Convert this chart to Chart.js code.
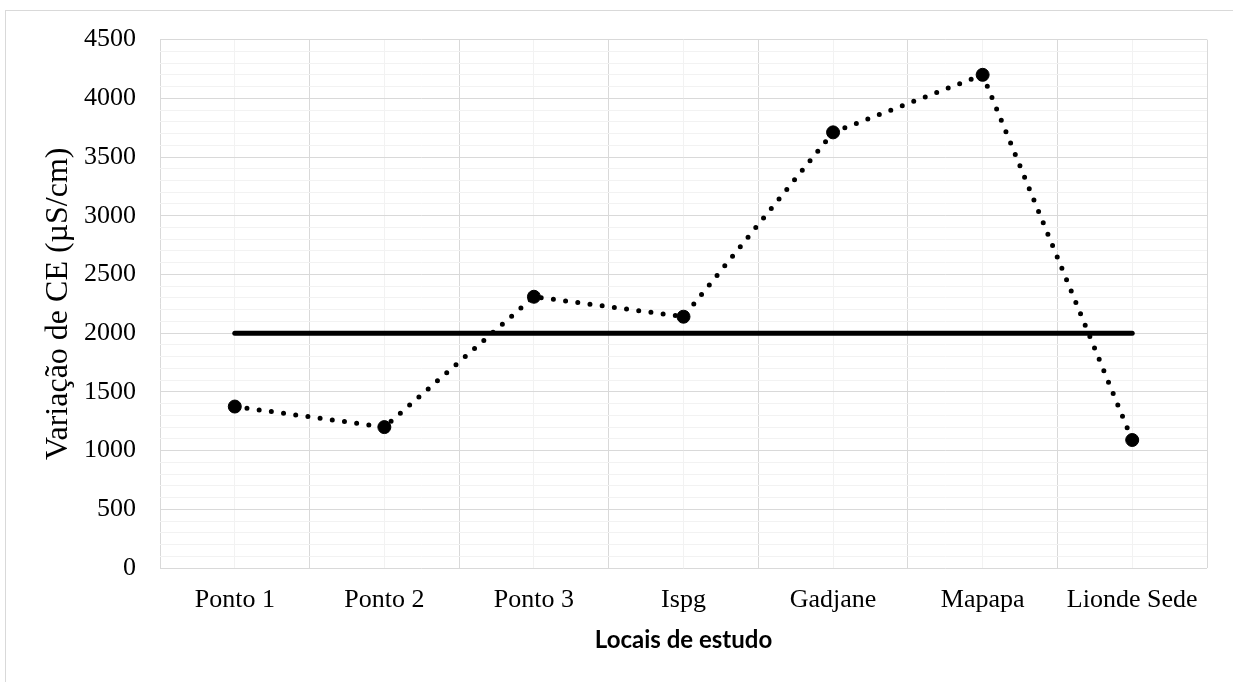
<!DOCTYPE html>
<html>
<head>
<meta charset="utf-8">
<script src="https://cdn.jsdelivr.net/npm/chart.js@4.4.1/dist/chart.umd.min.js"></script>
<style>
  html, body { margin: 0; padding: 0; background: #fff; }
  #wrap { position: relative; width: 1233px; height: 682px; overflow: hidden; }
  #frame { position: absolute; left: 5px; top: 10px; width: 1260px; height: 700px; border: 1px solid #d9d9d9; box-sizing: border-box; }
  #chart { position: absolute; left: 0; top: 0; }
</style>
</head>
<body>
<div id="wrap">
  <div id="frame"></div>
  <canvas id="chart" width="1233" height="682"></canvas>
</div>
<script>
// data
var locais = ['Ponto 1', 'Ponto 2', 'Ponto 3', 'Ispg', 'Gadjane', 'Mapapa', 'Lionde Sede'];
var ceValores = [1375, 1200, 2310, 2140, 3710, 4200, 1090];
var limiteCE = [2000, 2000, 2000, 2000, 2000, 2000, 2000];
var yMin = 0, yMax = 4500, yMajor = 500, yMinor = 100;

var serif = '"Liberation Serif", "Times New Roman", serif';

new Chart(document.getElementById('chart'), {
    type: 'line',
    data: {
        labels: locais,
        datasets: [
            { label: 'CE', data: ceValores, borderColor: '#000', backgroundColor: '#000', borderWidth: 5,
              borderDash: [0, 12.3], borderCapStyle: 'round', tension: 0,
              pointStyle: 'circle', pointRadius: 6.5, pointBorderWidth: 1, pointBackgroundColor: '#000', pointBorderColor: '#000' },
            { label: 'Limite', data: limiteCE, borderColor: '#000', borderWidth: 5, borderCapStyle: 'round',
              pointRadius: 0, tension: 0 }
        ]
    },
    options: {
        responsive: false, animation: false,
        layout: { padding: { left: 0, top: 39, right: 26, bottom: 0 } },
        plugins: { legend: { display: false }, tooltip: { enabled: false } },
        scales: {
            x: {
                type: 'category', offset: true,
                grid: { offset: true, color: '#d9d9d9', lineWidth: 1, drawTicks: false },
                border: { display: false },
                ticks: { color: '#000', font: { family: serif, size: 26 }, padding: 17, maxRotation: 0, autoSkip: false },
                title: { display: true, text: 'Locais de estudo', color: '#000',
                         font: { family: 'Lato, "Open Sans", sans-serif', size: 24, weight: 'bold' },
                         padding: { top: 0, bottom: 27 } },
                afterFit: function (s) { s.height = 114; }
            },
            x2: {
                type: 'category', position: 'top', offset: true, labels: locais,
                grid: { offset: false, color: '#f2f2f2', lineWidth: 1, drawTicks: false },
                border: { display: false },
                ticks: { display: false },
                afterFit: function (s) { s.height = 0; }
            },
            y: {
                min: yMin, max: yMax,
                grid: {
                    drawTicks: false, lineWidth: 1,
                    color: function (c) { return c.tick && c.tick.value % yMajor === 0 ? '#d9d9d9' : '#f2f2f2'; }
                },
                border: { display: false },
                ticks: {
                    stepSize: yMinor, maxTicksLimit: 100, autoSkip: false, padding: 24, color: '#000',
                    font: { family: serif, size: 26 },
                    callback: function (v) { return v % yMajor === 0 ? v : ''; }
                },
                title: { display: true, text: 'Variação de CE (µS/cm)', color: '#000',
                         font: { family: serif, size: 32 }, padding: { top: 39, bottom: 0 } },
                afterFit: function (s) { s.width = 160; }
            }
        }
    }
});
</script>
</body>
</html>
